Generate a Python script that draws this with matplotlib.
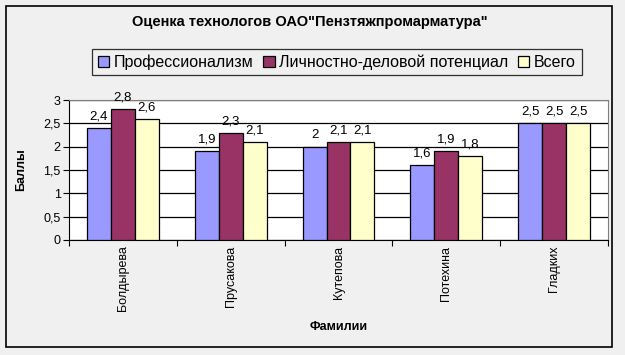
import matplotlib.pyplot as plt
import numpy as np
from matplotlib.patches import Rectangle

plt.rcParams['font.family'] = ['Liberation Sans', 'DejaVu Sans']

familii = ['Болдырева', 'Прусакова', 'Кутепова', 'Потехина', 'Гладких']
prof = [2.4, 1.9, 2.0, 1.6, 2.5]
lichn = [2.8, 2.3, 2.1, 1.9, 2.5]
vsego = [2.6, 2.1, 2.1, 1.8, 2.5]

serii = ['Профессионализм', 'Личностно-деловой потенциал', 'Всего']
cveta = ['#9999ff', '#993366', '#ffffcc']

fig = plt.figure(figsize=(6.25, 3.55), dpi=100)
fig.patch.set_facecolor('#f0f0f0')
fig.patches.append(Rectangle((6/625, 1-347/355), 606/625, 341/355, transform=fig.transFigure,
                             fill=False, edgecolor='black', linewidth=1.2))

ax = fig.add_axes([69/625, 1-240/355, 539/625, 140/355])
ax.set_facecolor('white')

x = np.arange(len(familii))
w = 0.222
for i, (vals, name, c) in enumerate(zip([prof, lichn, vsego], serii, cveta)):
    bars = ax.bar(x + (i-1)*w, vals, w, color=c, edgecolor='black', linewidth=0.9,
                  label=name, zorder=3)
    for b, v in zip(bars, vals):
        txt = ('%g' % v).replace('.', ',')
        ax.annotate(txt, (b.get_x()+b.get_width()/2, v), xytext=(0, 4), textcoords='offset points',
                    ha='center', va='bottom', fontsize=9.5)

ax.set_xlim(-0.5, len(familii)-0.5)
ax.set_ylim(0, 3)
ax.set_yticks(np.arange(0, 3.01, 0.5))
ax.set_yticklabels([('%g' % t).replace('.', ',') for t in np.arange(0, 3.01, 0.5)], fontsize=9)
ax.yaxis.grid(True, color='black', linewidth=0.9, zorder=0)
ax.set_xticks(np.arange(-0.5, len(familii)), minor=False)
ax.set_xticklabels([])
ax.set_xticks(x, minor=True)
ax.set_xticklabels(familii, minor=True, rotation=90, fontsize=9)
ax.tick_params(axis='x', which='minor', length=0, pad=4)
ax.tick_params(axis='x', which='major', length=4, direction='out')
ax.tick_params(axis='y', length=4, direction='out', pad=2)
ax.spines['top'].set_color('#808080')
ax.spines['right'].set_color('#808080')

ax.set_ylabel('Баллы', fontsize=9, fontweight='bold', labelpad=12)
ax.set_xlabel('Фамилии', fontsize=9, fontweight='bold', labelpad=7)

fig.text(0.496, 1-22/355, 'Оценка технологов ОАО"Пензтяжпромарматура"', ha='center', va='center',
         fontsize=10.5, fontweight='bold')

leg = fig.legend(loc='center', bbox_to_anchor=(337/625, 1-62/355), ncol=3, fontsize=11.5,
                 frameon=True, fancybox=False, edgecolor='black', facecolor='#f0f0f0',
                 handlelength=0.7, handleheight=0.7, handletextpad=0.3, columnspacing=0.6,
                 borderpad=0.35)
leg.get_frame().set_linewidth(0.9)

fig.savefig('out.png', dpi=100, facecolor=fig.get_facecolor())
